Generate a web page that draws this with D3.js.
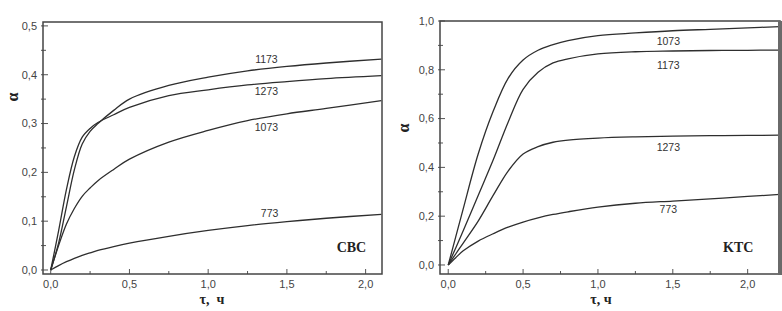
<!DOCTYPE html>
<html>
<head>
<meta charset="utf-8">
<script src="https://cdn.jsdelivr.net/npm/d3@7"></script>
<style>
  body { margin: 0; background: #fff; }
  svg { display: block; }
  .tick-label { font-family: "Liberation Sans", Arial, sans-serif; font-size: 11px; fill: #444; }
  .curve-label { font-family: "Liberation Sans", Arial, sans-serif; font-size: 10.5px; fill: #333; }
  .panel-name { font-family: "Liberation Serif", serif; font-size: 14px; font-weight: bold; fill: #222; }
  .axis-title { font-family: "Liberation Serif", serif; font-weight: bold; fill: #222; }
</style>
</head>
<body>
<svg id="chart" width="782" height="311"></svg>
<script>
/* values */

// left panel, CBC
var cbcTau = [0, 0.05, 0.1, 0.15, 0.2, 0.25, 0.3, 0.4, 0.5, 0.75, 1.0, 1.25, 1.5, 1.75, 2.1];
var cbc1173 = [0, 0.055, 0.13, 0.205, 0.258, 0.284, 0.300, 0.327, 0.350, 0.378, 0.395, 0.408, 0.417, 0.424, 0.432];
var cbc1273 = [0, 0.080, 0.165, 0.232, 0.272, 0.290, 0.302, 0.318, 0.333, 0.357, 0.369, 0.379, 0.386, 0.392, 0.398];
var cbc1073 = [0, 0.050, 0.094, 0.126, 0.151, 0.168, 0.183, 0.206, 0.227, 0.262, 0.286, 0.306, 0.320, 0.331, 0.347];
var cbc773  = [0, 0.009, 0.017, 0.024, 0.030, 0.035, 0.040, 0.048, 0.055, 0.069, 0.081, 0.091, 0.099, 0.106, 0.114];

// right panel, KTC
var ktcTau = [0, 0.05, 0.1, 0.2, 0.3, 0.4, 0.5, 0.6, 0.7, 0.8, 1.0, 1.25, 1.5, 1.75, 2.0, 2.215];
var ktc1073 = [0, 0.115, 0.23, 0.455, 0.63, 0.765, 0.840, 0.880, 0.903, 0.920, 0.940, 0.951, 0.960, 0.966, 0.972, 0.977];
var ktc1173 = [0, 0.07, 0.14, 0.285, 0.43, 0.585, 0.720, 0.790, 0.828, 0.845, 0.865, 0.874, 0.877, 0.879, 0.880, 0.881];
var ktc1273 = [0, 0.045, 0.09, 0.18, 0.285, 0.385, 0.455, 0.485, 0.503, 0.512, 0.520, 0.525, 0.528, 0.530, 0.531, 0.532];
var ktc773  = [0, 0.030, 0.058, 0.098, 0.128, 0.155, 0.176, 0.193, 0.207, 0.218, 0.237, 0.253, 0.262, 0.271, 0.281, 0.289];

var seriesNames = ["1173", "1273", "1073", "773"];
var ktcNames = ["1073", "1173", "1273", "773"];

// where the curve labels sit, in data units
var cbcLabelTau = [1.37, 1.37, 1.37, 1.39];
var cbcLabelAlpha = [0.432, 0.366, 0.292, 0.117];
var ktcLabelTau = [1.47, 1.47, 1.47, 1.47];
var ktcLabelAlpha = [0.917, 0.820, 0.482, 0.228];

var cbcXTicks = [0, 0.5, 1.0, 1.5, 2.0];
var cbcYTicks = [0, 0.1, 0.2, 0.3, 0.4, 0.5];
var ktcXTicks = [0, 0.5, 1.0, 1.5, 2.0];
var ktcYTicks = [0, 0.2, 0.4, 0.6, 0.8, 1.0];

var svg = d3.select("#chart");
var fmt = function(d) { return d3.format(".1f")(d).replace(".", ","); };

function drawPanel(p) {
    var x = d3.scaleLinear().domain(p.xDomain).range([p.left, p.right]);
    var y = d3.scaleLinear().domain(p.yDomain).range([p.bottom, p.top]);
    var g = svg.append("g");

    /* minor + major ticks, pointing inward */
    var xMinor = d3.range(0, p.xDomain[1], 0.25);
    g.selectAll(".xt").data(xMinor).enter().append("line")
        .attr("x1", d => x(d)).attr("x2", d => x(d))
        .attr("y1", p.bottom).attr("y2", (d, i) => p.bottom - (i % 2 == 0 ? 5 : 3))
        .attr("stroke", "#555").attr("stroke-width", 1);
    var yMinor = d3.range(0, p.yDomain[1] + 1e-6, p.yStep / 2);
    g.selectAll(".yt").data(yMinor).enter().append("line")
        .attr("x1", p.left - 2).attr("x2", (d, i) => p.left + (i % 2 == 0 ? 5 : 3))
        .attr("y1", d => y(d)).attr("y2", d => y(d))
        .attr("stroke", "#555").attr("stroke-width", 1);

    /* tick labels */
    g.selectAll(".xl").data(p.xTicks).enter().append("text")
        .attr("class", "tick-label")
        .attr("x", d => x(d)).attr("y", p.bottom + 14)
        .attr("text-anchor", "middle")
        .text(fmt);
    g.selectAll(".yl").data(p.yTicks).enter().append("text")
        .attr("class", "tick-label")
        .attr("x", p.left - 6).attr("y", d => y(d))
        .attr("dy", "0.35em")
        .attr("text-anchor", "end")
        .text(fmt);

    /* curves */
    var line = d3.line()
        .x(d => x(d[0]))
        .y(d => y(d[1]))
        .curve(d3.curveCatmullRom.alpha(0.5));
    p.series.forEach(function(s) {
        g.append("path")
            .datum(p.tau.map((t, i) => [t, s[i]]))
            .attr("fill", "none")
            .attr("stroke", "#2e2e2e")
            .attr("stroke-width", 1.3)
            .attr("d", line);
    });

    p.names.forEach(function(n, i) {
        g.append("text")
            .attr("class", "curve-label")
            .attr("x", x(p.labelTau[i])).attr("y", y(p.labelAlpha[i]))
            .attr("dy", "0.35em")
            .attr("text-anchor", "middle")
            .text(n);
    });

    g.append("text")
        .attr("class", "panel-name")
        .attr("x", x(p.nameAt[0])).attr("y", y(p.nameAt[1]))
        .attr("dy", "0.35em")
        .attr("text-anchor", "middle")
        .text(p.title);

    /* frame */
    g.append("rect")
        .attr("x", p.left).attr("y", p.top)
        .attr("width", p.right - p.left).attr("height", p.bottom - p.top)
        .attr("fill", "none").attr("stroke", "#444").attr("stroke-width", 1.5);
    if (p.thickRight) {
        g.append("line")
            .attr("x1", p.right).attr("x2", p.right)
            .attr("y1", p.top).attr("y2", p.bottom + 1)
            .attr("stroke", "#6a6a6a").attr("stroke-width", 4);
    }

    /* axis titles */
    g.append("text")
        .attr("class", "axis-title")
        .attr("transform", "translate(" + p.yTitle[0] + "," + p.yTitle[1] + ") rotate(-90)")
        .attr("text-anchor", "middle")
        .attr("dy", "0.35em")
        .style("font-size", "16px")
        .text("α");
    g.append("text")
        .attr("class", "axis-title")
        .attr("x", p.xTitle[0]).attr("y", p.xTitle[1])
        .attr("text-anchor", "middle")
        .attr("dy", "0.35em")
        .style("font-size", "14px")
        .style("white-space", "pre")
        .text(p.xTitleText);
}

drawPanel({
    left: 43, right: 382, top: 22, bottom: 274,
    xDomain: [-0.049, 2.104], yDomain: [-0.0082, 0.508], yStep: 0.1,
    xTicks: cbcXTicks, yTicks: cbcYTicks,
    tau: cbcTau, series: [cbc1173, cbc1273, cbc1073, cbc773],
    names: seriesNames, labelTau: cbcLabelTau, labelAlpha: cbcLabelAlpha,
    title: "CBC", nameAt: [1.91, 0.0465],
    yTitle: [12, 97], xTitle: [212, 299], xTitleText: "τ,  ч",
    thickRight: false
});

drawPanel({
    left: 440, right: 780, top: 21, bottom: 274,
    xDomain: [-0.055, 2.216], yDomain: [-0.037, 1.0], yStep: 0.2,
    xTicks: ktcXTicks, yTicks: ktcYTicks,
    tau: ktcTau, series: [ktc1073, ktc1173, ktc1273, ktc773],
    names: ktcNames, labelTau: ktcLabelTau, labelAlpha: ktcLabelAlpha,
    title: "KTC", nameAt: [1.937, 0.0725],
    yTitle: [403, 128], xTitle: [601, 299], xTitleText: "τ, ч",
    thickRight: true
});
</script>
</body>
</html>
